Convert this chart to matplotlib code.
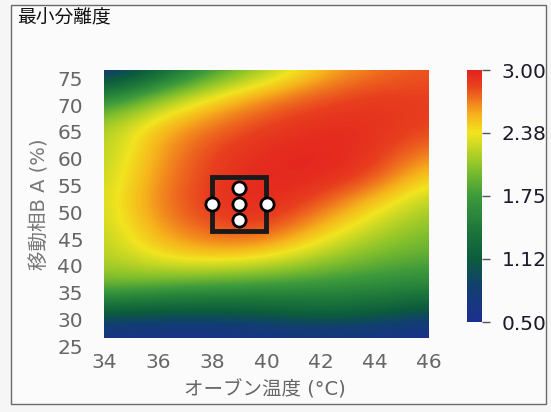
import numpy as np
import matplotlib
matplotlib.use("Agg")
import matplotlib.pyplot as plt
from matplotlib.colors import LinearSegmentedColormap
from matplotlib.patches import Rectangle
import matplotlib.transforms as mtransforms

plt.rcParams['font.family'] = ['DejaVu Sans', 'Noto Sans CJK JP']

# response surface sampled on a coarse grid (oven temp x mobile phase B)
temps = [34, 36, 38, 40, 42, 44, 46]
phase_b = [25, 30, 35, 40, 45, 50, 55, 60, 65, 70, 75]
min_resolution = [
    [0.55, 0.50, 0.50, 0.55, 0.60, 0.55, 0.50],
    [1.15, 1.10, 1.10, 1.15, 1.25, 1.20, 1.00],
    [2.00, 1.90, 1.80, 1.75, 1.70, 1.65, 1.60],
    [2.15, 2.40, 2.50, 2.40, 2.15, 1.95, 1.85],
    [2.20, 2.60, 2.80, 2.85, 2.50, 2.20, 2.00],
    [2.25, 2.70, 2.90, 2.98, 2.80, 2.45, 2.15],
    [2.20, 2.65, 2.88, 2.97, 2.98, 2.85, 2.40],
    [2.15, 2.60, 2.85, 2.95, 2.98, 2.92, 2.70],
    [2.10, 2.50, 2.70, 2.85, 2.93, 2.93, 2.85],
    [1.50, 2.00, 2.40, 2.65, 2.80, 2.88, 2.85],
    [0.60, 1.10, 1.70, 2.10, 2.50, 2.70, 2.80],
]

# design region and its points
box_x = [38, 40]
box_y = [45, 55]
pts_x = [38, 40, 39, 39, 39]
pts_y = [50, 50, 53, 50, 47]

cbar_ticks = [0.5, 1.125, 1.75, 2.375, 3.0]
cbar_labels = ['0.50', '1.12', '1.75', '2.38', '3.00']

cmap = LinearSegmentedColormap.from_list('jmp', [
    (0.00, '#1c2f90'),
    (0.14, '#113f70'),
    (0.25, '#0c5c3c'),
    (0.38, '#1f7a3a'),
    (0.50, '#3d9a3c'),
    (0.62, '#8cc42a'),
    (0.75, '#f1e41f'),
    (0.82, '#f6b41c'),
    (0.88, '#f07a1e'),
    (0.94, '#e8401e'),
    (1.00, '#e3221f'),
])

fig = plt.figure(figsize=(5.51, 4.12), dpi=100, facecolor='#f6f6f6')

# panel frame
fig.patches.append(Rectangle((11 / 551, 1 - 404 / 412), 535 / 551, 399 / 412,
                             transform=fig.transFigure, facecolor='#fbfbfb',
                             edgecolor='#6a6a6a', lw=1.0, zorder=-5))
fig.text(17 / 551, 1 - 18 / 412, '最小分離度', fontsize=13.5, color='#111111',
         family=['Noto Sans CJK JP'], va='center', ha='left')

ax = fig.add_axes([104 / 551, 74 / 412, 325 / 551, 268 / 412])
dx = (temps[1] - temps[0]) / 2
dy = (phase_b[1] - phase_b[0]) / 2
im = ax.imshow(np.array(min_resolution), origin='lower', cmap=cmap,
               vmin=0.5, vmax=3.0, aspect='auto', interpolation='bicubic',
               extent=[temps[0] - dx, temps[-1] + dx, phase_b[0] - dy, phase_b[-1] + dy])
ax.set_xlim(temps[0], temps[-1])
ax.set_ylim(phase_b[0], phase_b[-1])

ax.add_patch(Rectangle((box_x[0], box_y[0]), box_x[1] - box_x[0], box_y[1] - box_y[0],
                       fill=False, edgecolor='#1a1a1a', lw=3.5, zorder=3))
ax.plot(pts_x, pts_y, 'o', ms=9.5, mfc='white', mec='black', mew=2, zorder=4)

for s in ax.spines.values():
    s.set_visible(False)
ax.set_xticks(temps)
ax.set_yticks(phase_b)
ax.tick_params(length=0, labelsize=14.5, labelcolor='#666666')
ax.tick_params(axis='x', pad=11)
ax.tick_params(axis='y', pad=15)
shift = mtransforms.ScaledTranslation(0, -6 / 72, fig.dpi_scale_trans)
for lbl in ax.get_yticklabels():
    lbl.set_transform(lbl.get_transform() + shift)

fig.text(40 / 551, 1 - 204 / 412, '移動相B A (%)', rotation=90, fontsize=14,
         color='#777777', ha='center', va='center')
fig.text(265 / 551, 1 - 390 / 412, 'オーブン温度 (°C)', fontsize=14,
         color='#666666', ha='center', va='center')

cax = fig.add_axes([467 / 551, 90 / 412, 15 / 551, 252 / 412])
cb = fig.colorbar(im, cax=cax, ticks=cbar_ticks)
cb.outline.set_visible(False)
cb.ax.set_yticklabels(cbar_labels)
cb.ax.tick_params(length=6, width=1, color='#555555', labelsize=14.5,
                  labelcolor='#1a1a2a', pad=8)

fig.savefig('out.png', dpi=100, facecolor=fig.get_facecolor())
